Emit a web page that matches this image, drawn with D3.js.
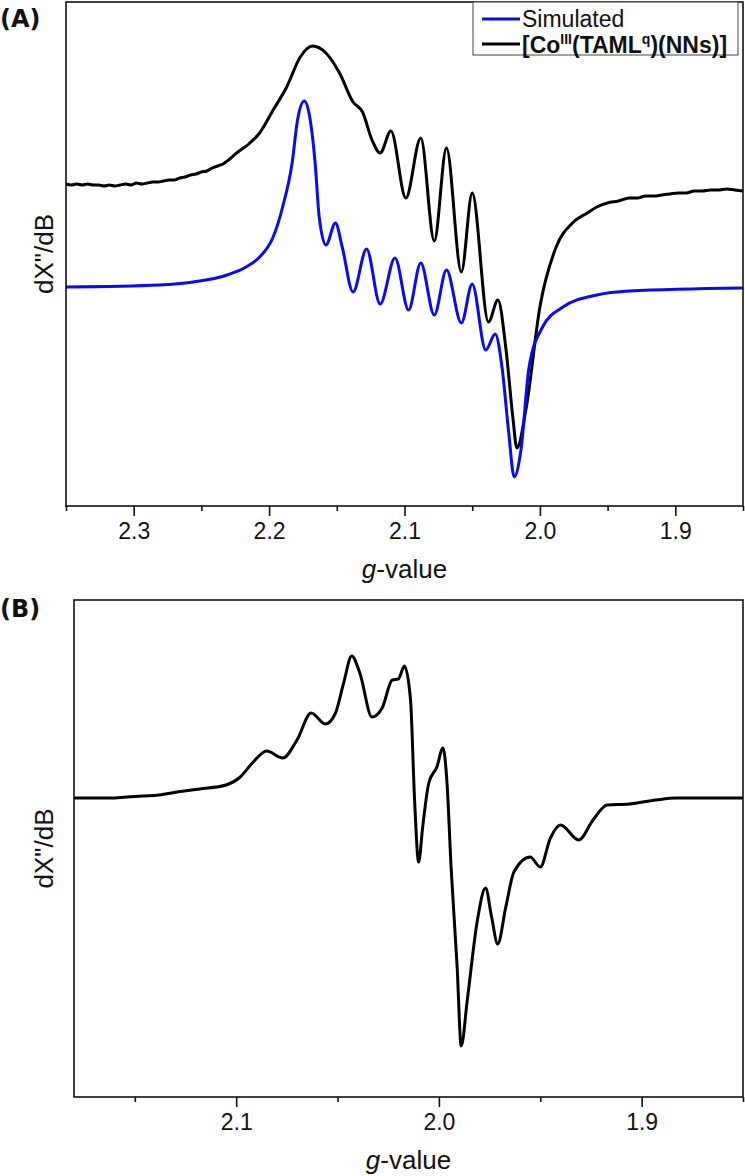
<!DOCTYPE html>
<html>
<head>
<meta charset="utf-8">
<script src="https://cdn.jsdelivr.net/npm/d3@7"></script>
<style>
  body { margin: 0; background: #fff; }
  svg { display: block; font-family: "Liberation Sans", Arial, sans-serif; }
</style>
</head>
<body>
<div id="chart"></div>
<script>
"use strict"

const WIDTH = 745;
const HEIGHT = 1176;

// ---- panel A: simulated spectrum (g-value, intensity a.u.)
const simG = [2.350, 2.281, 2.256, 2.231, 2.217, 2.207, 2.197, 2.190, 2.183, 2.179, 2.174, 2.170, 2.166, 2.163, 2.158,
  2.151, 2.146, 2.138, 2.128, 2.118, 2.107, 2.097, 2.088, 2.078, 2.069, 2.058, 2.050, 2.040, 2.033, 2.028,
  2.023, 2.019, 2.014, 2.008, 1.998, 1.983, 1.958, 1.934, 1.850];
const simI = [0.00, 0.02, 0.05, 0.12, 0.20, 0.30, 0.50, 0.80, 1.24, 1.67, 1.86, 1.70, 1.24, 0.70, 0.42,
  0.64, 0.40, -0.05, 0.38, -0.17, 0.29, -0.23, 0.24, -0.28, 0.17, -0.36, 0.03, -0.63, -0.47, -0.80,
  -1.46, -1.90, -1.63, -0.80, -0.40, -0.20, -0.08, -0.04, -0.01];

// ---- panel A: experimental spectrum
const expAG = [2.350, 2.346, 2.342, 2.338, 2.334, 2.330, 2.326, 2.322, 2.318, 2.314, 2.310, 2.306, 2.302, 2.298,
  2.294, 2.290, 2.286, 2.282, 2.278, 2.274, 2.270, 2.266, 2.262, 2.258, 2.254, 2.250, 2.246, 2.242, 2.238,
  2.234, 2.230, 2.224, 2.215, 2.207, 2.197, 2.187, 2.177, 2.168, 2.158, 2.148, 2.138, 2.131, 2.124, 2.118,
  2.110, 2.099, 2.088, 2.078, 2.069, 2.058, 2.050, 2.038, 2.031, 2.025, 2.020, 2.017, 2.010, 2.000, 1.988,
  1.976, 1.965, 1.958, 1.950, 1.942, 1.934, 1.928, 1.922, 1.916, 1.910, 1.904, 1.898, 1.892, 1.886, 1.880,
  1.874, 1.868, 1.862, 1.856, 1.850];
const expAI = [1.03, 1.02, 1.03, 1.02, 1.03, 1.02, 1.02, 1.01, 1.02, 1.01, 1.02, 1.03, 1.02, 1.04,
  1.03, 1.04, 1.05, 1.05, 1.06, 1.07, 1.07, 1.09, 1.10, 1.12, 1.13, 1.15, 1.16, 1.19, 1.21,
  1.23, 1.27, 1.34, 1.43, 1.54, 1.77, 2.00, 2.30, 2.41, 2.34, 2.14, 1.85, 1.75, 1.47, 1.34,
  1.56, 0.89, 1.49, 0.46, 1.39, 0.15, 0.94, -0.35, -0.13, -0.63, -1.30, -1.61, -1.20, -0.20, 0.40,
  0.64, 0.74, 0.80, 0.84, 0.86, 0.89, 0.89, 0.91, 0.91, 0.92, 0.93, 0.94, 0.94, 0.96, 0.96,
  0.97, 0.97, 0.98, 0.97, 0.96];

// ---- panel B: experimental spectrum
const expBG = [2.180, 2.170, 2.162, 2.154, 2.146, 2.138, 2.129, 2.118, 2.105, 2.098, 2.092, 2.085, 2.077, 2.070,
  2.063, 2.056, 2.051, 2.047, 2.043, 2.039, 2.033, 2.028, 2.023, 2.020, 2.017, 2.014, 2.012, 2.010, 2.008,
  2.005, 2.001, 1.998, 1.996, 1.994, 1.991, 1.989, 1.986, 1.981, 1.977, 1.974, 1.971, 1.967, 1.963, 1.955,
  1.950, 1.945, 1.940, 1.931, 1.924, 1.917, 1.906, 1.893, 1.883, 1.873, 1.862, 1.850];
const expBI = [0.00, 0.00, 0.00, 0.01, 0.02, 0.03, 0.06, 0.09, 0.13, 0.21, 0.35, 0.47, 0.40, 0.58,
  0.85, 0.74, 0.85, 1.15, 1.42, 1.25, 0.81, 0.90, 1.18, 1.19, 1.32, 0.98, -0.02, -0.64, -0.29,
  0.15, 0.31, 0.50, 0.15, -0.69, -1.69, -2.48, -2.02, -1.22, -0.90, -1.19, -1.46, -1.09, -0.74, -0.59,
  -0.69, -0.40, -0.27, -0.42, -0.22, -0.07, -0.06, -0.02, 0.00, 0.00, 0.00, 0.00];

// ---- axes
const majorA = [2.3, 2.2, 2.1, 2.0, 1.9];
const minorA = [2.35, 2.25, 2.15, 2.05, 1.95, 1.85];
const majorB = [2.1, 2.0, 1.9];
const minorB = [2.15, 2.05, 1.95, 1.85];

const legendNames = ["Simulated", "[Co(TAML)(NNs)]"];
const legendColors = ["#0a0af0", "#000"];

const svg = d3.select("#chart").append("svg")
  .attr("width", WIDTH)
  .attr("height", HEIGHT);

function zip(g, v) { return g.map((d, i) => ({ g: d, v: v[i] })); }

function drawPanel(p)
{
  const x = d3.scaleLinear().domain(p.xDomain).range([p.left, p.right]);
  const y = d3.scaleLinear().domain(p.yDomain).range([p.bottom, p.top]);

  const line = d3.line()
    .x(d => x(d.g))
    .y(d => y(d.v))
    .curve(d3.curveMonotoneX);

  p.series.forEach(s => {
    svg.append("path")
      .datum(zip(s.g, s.v))
      .attr("d", line)
      .attr("fill", "none")
      .attr("stroke", s.color)
      .attr("stroke-width", 3)
      .attr("stroke-linejoin", "round");
  });

  // frame
  svg.append("rect")
    .attr("x", p.left).attr("y", p.top)
    .attr("width", p.right - p.left).attr("height", p.bottom - p.top)
    .attr("fill", "none").attr("stroke", "#111").attr("stroke-width", 1.6);

  const major = svg.append("g")
    .attr("transform", "translate(0," + p.bottom + ")")
    .call(d3.axisBottom(x).tickValues(p.major).tickSize(10).tickPadding(7).tickFormat(d3.format(".1f")));
  major.select(".domain").remove();
  major.selectAll("line").attr("stroke", "#111").attr("stroke-width", 1.6);
  major.selectAll("text").attr("font-size", 23).attr("fill", "#111").attr("font-family", null);

  const minor = svg.append("g")
    .attr("transform", "translate(0," + p.bottom + ")")
    .call(d3.axisBottom(x).tickValues(p.minor).tickSize(5).tickFormat(""));
  minor.select(".domain").remove();
  minor.selectAll("line").attr("stroke", "#111").attr("stroke-width", 1.6);

  const xl = svg.append("text")
    .attr("x", (p.left + p.right) / 2)
    .attr("y", p.bottom + p.xLabelDy)
    .attr("text-anchor", "middle")
    .attr("font-size", 26)
    .attr("fill", "#111");
  xl.append("tspan").attr("font-style", "italic").text("g");
  xl.append("tspan").text("-value");

  svg.append("text")
    .attr("transform", "translate(" + 53 + "," + ((p.top + p.bottom) / 2) + ") rotate(-90)")
    .attr("text-anchor", "middle")
    .attr("font-size", 26)
    .attr("fill", "#111")
    .text("dX\"/dB");

  svg.append("text")
    .attr("x", 0)
    .attr("y", p.labelY)
    .attr("font-family", "DejaVu Sans")
    .attr("font-weight", "bold")
    .attr("font-size", 24)
    .attr("fill", "#111")
    .text(p.label);

  return { x: x, y: y };
}

drawPanel({
  left: 66, right: 743, top: 2, bottom: 506,
  xDomain: [2.35, 1.85], yDomain: [-2.19, 2.85],
  major: majorA, minor: minorA, label: "(A)", labelY: 27, xLabelDy: 72,
  series: [
    { g: expAG, v: expAI, color: legendColors[1] },
    { g: simG, v: simI, color: legendColors[0] }
  ]
});

drawPanel({
  left: 74, right: 743, top: 600, bottom: 1097,
  xDomain: [2.18, 1.85], yDomain: [-2.99, 1.98],
  major: majorB, minor: minorB, label: "(B)", labelY: 617, xLabelDy: 72,
  series: [
    { g: expBG, v: expBI, color: legendColors[1] }
  ]
});

// legend
const lg = svg.append("g");
lg.append("rect")
  .attr("x", 473).attr("y", 2).attr("width", 265).attr("height", 53)
  .attr("fill", "#fff").attr("stroke", "#444").attr("stroke-width", 1);

legendNames.forEach((name, i) => {
  const yy = 19 + i * 25;
  lg.append("line")
    .attr("x1", 482).attr("x2", 520).attr("y1", yy).attr("y2", yy)
    .attr("stroke", legendColors[i]).attr("stroke-width", 3);
  const t = lg.append("text")
    .attr("x", 522).attr("y", yy + 8)
    .attr("font-size", 23)
    .attr("fill", "#111");
  if (i == 0) {
    t.text(name);
  } else {
    t.attr("font-weight", "bold").attr("y", yy + 9);
    t.append("tspan").text("[Co");
    t.append("tspan").attr("font-size", 14).attr("dy", -9).text("III");
    t.append("tspan").attr("dy", 9).text("(TAML");
    t.append("tspan").attr("font-size", 14).attr("dy", -9).text("q");
    t.append("tspan").attr("dy", 9).text(")(NNs)]");
  }
});
</script>
</body>
</html>
